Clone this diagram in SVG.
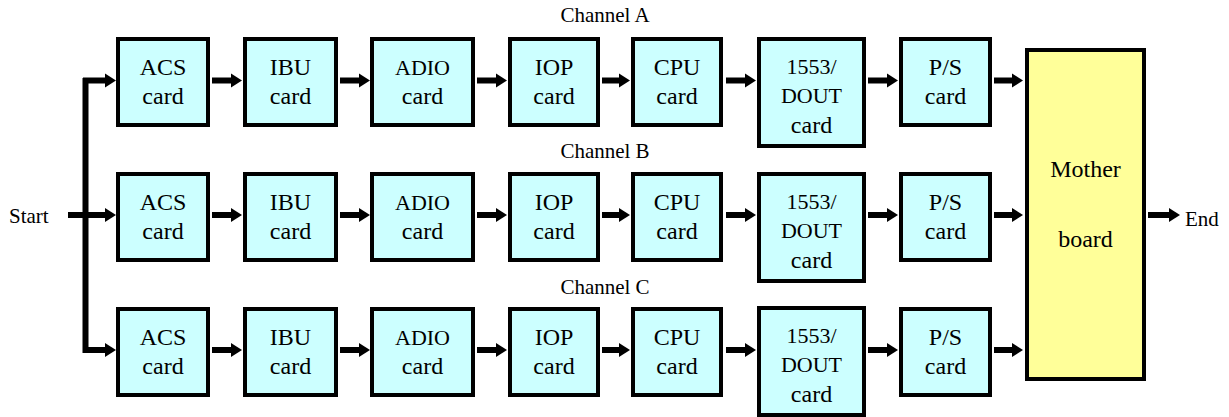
<svg xmlns="http://www.w3.org/2000/svg" width="1229" height="417" viewBox="0 0 1229 417">
<style>
.card{fill:#CCFFFF;stroke:#000;stroke-width:4}
.mb{fill:#FFFF99;stroke:#000;stroke-width:4}
.t{font-family:"Liberation Serif",serif;font-size:24px;text-anchor:middle;fill:#000}
.s{font-family:"Liberation Serif",serif;font-size:22px;text-anchor:middle;fill:#000}
.lbl{font-family:"Liberation Serif",serif;font-size:21px;fill:#000}
.c{stroke:#000;stroke-width:6;fill:none}
.ca{stroke:#000;stroke-width:6;fill:none;marker-end:url(#ah)}
</style>
<defs>
<marker id="ah" markerUnits="userSpaceOnUse" markerWidth="12" markerHeight="14" refX="1" refY="7" orient="auto" overflow="visible">
<path d="M0,0 L11,7 L0,14 z" fill="#000"/>
</marker>
</defs>
<rect width="1229" height="417" fill="#fff"/>
<g id="labels">
<text class="lbl" x="605" y="22" text-anchor="middle" font-family="Liberation Serif">Channel A</text>
<text class="lbl" x="605" y="158" text-anchor="middle" font-family="Liberation Serif">Channel B</text>
<text class="lbl" x="605" y="294" text-anchor="middle" font-family="Liberation Serif">Channel C</text>
<text class="lbl" x="9" y="223" font-family="Liberation Serif">Start</text>
<text class="lbl" x="1185" y="226" font-family="Liberation Serif">End</text>
</g>
<g id="connectors">
<path class="c" d="M68,215 H86"/>
<path class="c" d="M85.5,78 V353"/>
<path class="ca" d="M83,80.5 H106"/>
<path class="ca" d="M83,215 H106"/>
<path class="ca" d="M83,350 H106"/>
<path class="ca" d="M212,80.5 H232"/>
<path class="ca" d="M340,80.5 H360"/>
<path class="ca" d="M477,80.5 H497"/>
<path class="ca" d="M602,80.5 H620"/>
<path class="ca" d="M726,80.5 H746"/>
<path class="ca" d="M868,80.5 H888"/>
<path class="ca" d="M994,80.5 H1013"/>
<path class="ca" d="M212,215 H232"/>
<path class="ca" d="M340,215 H360"/>
<path class="ca" d="M477,215 H497"/>
<path class="ca" d="M602,215 H620"/>
<path class="ca" d="M726,215 H746"/>
<path class="ca" d="M868,215 H888"/>
<path class="ca" d="M994,215 H1013"/>
<path class="ca" d="M212,350 H232"/>
<path class="ca" d="M340,350 H360"/>
<path class="ca" d="M477,350 H497"/>
<path class="ca" d="M602,350 H620"/>
<path class="ca" d="M726,350 H746"/>
<path class="ca" d="M868,350 H888"/>
<path class="ca" d="M994,350 H1013"/>
<path class="ca" d="M1148,215 H1170"/>
</g>
<g id="acs-a"><rect class="card" x="118" y="39" width="90" height="86"/><text class="t" x="163" y="75" font-family="Liberation Serif">ACS</text><text class="t" x="163" y="104" font-family="Liberation Serif">card</text></g>
<g id="ibu-a"><rect class="card" x="245" y="39" width="91" height="86"/><text class="t" x="290.5" y="75" font-family="Liberation Serif">IBU</text><text class="t" x="290.5" y="104" font-family="Liberation Serif">card</text></g>
<g id="adio-a"><rect class="card" x="372" y="39" width="101" height="86"/><text class="s" x="422.5" y="75" font-family="Liberation Serif">ADIO</text><text class="t" x="422.5" y="104" font-family="Liberation Serif">card</text></g>
<g id="iop-a"><rect class="card" x="510" y="39" width="88" height="86"/><text class="t" x="554" y="75" font-family="Liberation Serif">IOP</text><text class="t" x="554" y="104" font-family="Liberation Serif">card</text></g>
<g id="cpu-a"><rect class="card" x="633" y="39" width="88" height="86"/><text class="t" x="677" y="75" font-family="Liberation Serif">CPU</text><text class="t" x="677" y="104" font-family="Liberation Serif">card</text></g>
<g id="dout-a"><rect class="card" x="759" y="39" width="105" height="107"/><text class="s" x="811.5" y="74" font-family="Liberation Serif">1553/</text><text class="s" x="811.5" y="103" font-family="Liberation Serif">DOUT</text><text class="t" x="811.5" y="133" font-family="Liberation Serif">card</text></g>
<g id="ps-a"><rect class="card" x="901" y="39" width="89" height="86"/><text class="t" x="945.5" y="75" font-family="Liberation Serif">P/S</text><text class="t" x="945.5" y="104" font-family="Liberation Serif">card</text></g>
<g id="acs-b"><rect class="card" x="118" y="174" width="90" height="86"/><text class="t" x="163" y="210" font-family="Liberation Serif">ACS</text><text class="t" x="163" y="239" font-family="Liberation Serif">card</text></g>
<g id="ibu-b"><rect class="card" x="245" y="174" width="91" height="86"/><text class="t" x="290.5" y="210" font-family="Liberation Serif">IBU</text><text class="t" x="290.5" y="239" font-family="Liberation Serif">card</text></g>
<g id="adio-b"><rect class="card" x="372" y="174" width="101" height="86"/><text class="s" x="422.5" y="210" font-family="Liberation Serif">ADIO</text><text class="t" x="422.5" y="239" font-family="Liberation Serif">card</text></g>
<g id="iop-b"><rect class="card" x="510" y="174" width="88" height="86"/><text class="t" x="554" y="210" font-family="Liberation Serif">IOP</text><text class="t" x="554" y="239" font-family="Liberation Serif">card</text></g>
<g id="cpu-b"><rect class="card" x="633" y="174" width="88" height="86"/><text class="t" x="677" y="210" font-family="Liberation Serif">CPU</text><text class="t" x="677" y="239" font-family="Liberation Serif">card</text></g>
<g id="dout-b"><rect class="card" x="759" y="174" width="105" height="107"/><text class="s" x="811.5" y="209" font-family="Liberation Serif">1553/</text><text class="s" x="811.5" y="238" font-family="Liberation Serif">DOUT</text><text class="t" x="811.5" y="268" font-family="Liberation Serif">card</text></g>
<g id="ps-b"><rect class="card" x="901" y="174" width="89" height="86"/><text class="t" x="945.5" y="210" font-family="Liberation Serif">P/S</text><text class="t" x="945.5" y="239" font-family="Liberation Serif">card</text></g>
<g id="acs-c"><rect class="card" x="118" y="309" width="90" height="86"/><text class="t" x="163" y="345" font-family="Liberation Serif">ACS</text><text class="t" x="163" y="374" font-family="Liberation Serif">card</text></g>
<g id="ibu-c"><rect class="card" x="245" y="309" width="91" height="86"/><text class="t" x="290.5" y="345" font-family="Liberation Serif">IBU</text><text class="t" x="290.5" y="374" font-family="Liberation Serif">card</text></g>
<g id="adio-c"><rect class="card" x="372" y="309" width="101" height="86"/><text class="s" x="422.5" y="345" font-family="Liberation Serif">ADIO</text><text class="t" x="422.5" y="374" font-family="Liberation Serif">card</text></g>
<g id="iop-c"><rect class="card" x="510" y="309" width="88" height="86"/><text class="t" x="554" y="345" font-family="Liberation Serif">IOP</text><text class="t" x="554" y="374" font-family="Liberation Serif">card</text></g>
<g id="cpu-c"><rect class="card" x="633" y="309" width="88" height="86"/><text class="t" x="677" y="345" font-family="Liberation Serif">CPU</text><text class="t" x="677" y="374" font-family="Liberation Serif">card</text></g>
<g id="dout-c"><rect class="card" x="759" y="308" width="105" height="107"/><text class="s" x="811.5" y="343" font-family="Liberation Serif">1553/</text><text class="s" x="811.5" y="372" font-family="Liberation Serif">DOUT</text><text class="t" x="811.5" y="402" font-family="Liberation Serif">card</text></g>
<g id="ps-c"><rect class="card" x="901" y="309" width="89" height="86"/><text class="t" x="945.5" y="345" font-family="Liberation Serif">P/S</text><text class="t" x="945.5" y="374" font-family="Liberation Serif">card</text></g>
<g id="motherboard"><rect class="mb" x="1027" y="50" width="117" height="329"/><text class="t" x="1085.5" y="177" font-family="Liberation Serif">Mother</text><text class="t" x="1085.5" y="247" font-family="Liberation Serif">board</text></g>
</svg>
